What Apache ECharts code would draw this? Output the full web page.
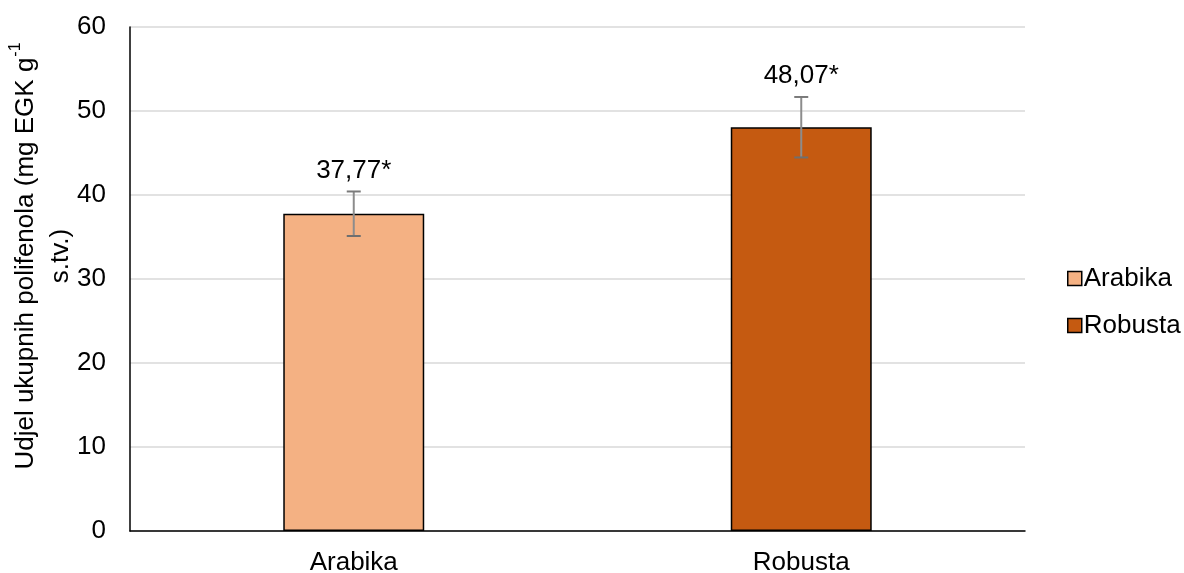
<!DOCTYPE html>
<html><head><meta charset="utf-8">
<script src="https://cdn.jsdelivr.net/npm/echarts@6/dist/echarts.min.js"></script>
<style>html,body{margin:0;padding:0;background:#fff}#c{width:1184px;height:573px}</style>
</head><body><div id="c"></div>
<script>
var categories = ['Arabika', 'Robusta'];
var seriesNames = ['Arabika', 'Robusta'];
var means = [37.77, 48.07];
var errors = [2.65, 3.6];
var colors = ['#F4B183', '#C55A11'];
var yTicks = [0, 10, 20, 30, 40, 50, 60];
var yTitle = '{a|Udjel ukupnih polifenola (mg EGK g}{s|-1}\n{a|s.tv.)}';
var FONT = 'Liberation Sans, Arial, sans-serif';
var FS = 26;

var chart = echarts.init(document.getElementById('c'));
var barSeries = seriesNames.map(function (n, i) {
  return {
    name: n, type: 'bar', barWidth: '31.5%', barGap: '-100%',
    data: categories.map(function (c, j) { return j === i ? means[j] : '-'; }),
    itemStyle: { color: colors[i], borderColor: '#000', borderWidth: 1.5 },
    emphasis: { disabled: true }
  };
});
var errData = categories.map(function (c, j) { return [j, means[j], errors[j]]; });
chart.setOption({
  animation: false,
  grid: { left: 130, right: 159, top: 27, bottom: 42, containLabel: false, outerBoundsMode: 'none' },
  graphic: [{
    type: 'text', x: 43, y: 256, rotation: Math.PI / 2, silent: true,
    style: {
      text: yTitle, align: 'center', verticalAlign: 'middle',
      rich: {
        a: { fontFamily: FONT, fontSize: FS, fill: '#000', lineHeight: 35 },
        s: { fontFamily: FONT, fontSize: 16, fill: '#000', verticalAlign: 'top', lineHeight: 26, padding: [0, 0, 0, 1] }
      }
    }
  }],
  legend: {
    orient: 'vertical', left: 1062, top: 258, itemWidth: 14, itemHeight: 14, itemGap: 16,
    icon: 'rect',
    data: seriesNames,
    textStyle: { fontFamily: FONT, fontSize: FS, color: '#000', lineHeight: 31, padding: [0, 0, 0, -3] },
    itemStyle: { borderColor: '#000', borderWidth: 1.5 }
  },
  xAxis: {
    type: 'category', data: categories,
    axisLine: { lineStyle: { color: '#000', width: 1.5 } },
    axisTick: { show: false },
    axisLabel: { fontFamily: FONT, fontSize: FS, color: '#000', margin: 19 }
  },
  yAxis: {
    type: 'value', min: yTicks[0], max: yTicks[yTicks.length - 1], interval: 10,
    axisLine: { show: true, lineStyle: { color: '#000', width: 1.5 } },
    axisTick: { show: false },
    splitLine: { lineStyle: { color: '#d9d9d9', width: 1.5 } },
    axisLabel: { fontFamily: FONT, fontSize: FS, color: '#000', margin: 24 }
  },
  series: barSeries.concat([{
    type: 'custom', silent: true, z: 10,
    data: errData,
    renderItem: function (params, api) {
      var x = api.value(0), m = api.value(1), e = api.value(2);
      var top = api.coord([x, m + e]);
      var bot = api.coord([x, m - e]);
      var cx = top[0], hw = 7;
      var lbl = m.toFixed(2).replace('.', ',') + '*';
      return {
        type: 'group', children: [
          { type: 'line', shape: { x1: cx, y1: top[1], x2: cx, y2: bot[1] }, style: { stroke: '#8c8c8c', lineWidth: 2 } },
          { type: 'line', shape: { x1: cx - hw, y1: top[1], x2: cx + hw, y2: top[1] }, style: { stroke: '#7a7a7a', lineWidth: 2 } },
          { type: 'line', shape: { x1: cx - hw, y1: bot[1], x2: cx + hw, y2: bot[1] }, style: { stroke: '#6f6f6f', lineWidth: 2 } },
          { type: 'text', style: { x: cx, y: top[1] - 8, text: lbl, textAlign: 'center', textVerticalAlign: 'bottom', font: FS + 'px ' + FONT, fill: '#000' } }
        ]
      };
    }
  }])
});
</script></body></html>
